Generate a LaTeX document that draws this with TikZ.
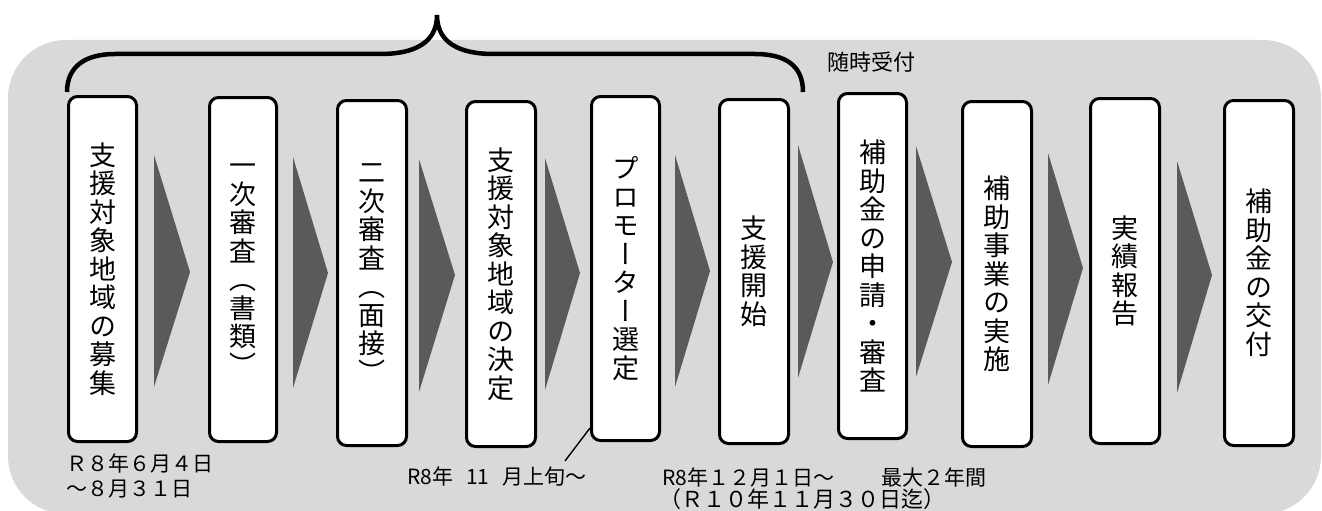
\documentclass[tikz,border=0pt]{standalone}
\usepackage{fontspec}
\newfontfamily\jp{Noto Sans CJK JP}
\newfontfamily\jpv[RawFeature={+vert}]{Noto Sans CJK JP}
\usetikzlibrary{calc}
\definecolor{bg}{HTML}{D9D9D9}
\definecolor{arr}{HTML}{5A5A5A}
\tikzset{
  stepbox/.style={draw=black, line width=3pt, fill=white, rounded corners=9pt,
    inner sep=0pt, align=center, font=\jpv\fontsize{27}{28.5}\selectfont},
  chev/.style={fill=arr},
  brace/.style={draw=black, line width=4.5pt},
  lbl/.style={font=\jp\fontsize{21}{25}\selectfont, inner sep=0pt, align=left, text=black},
  leader/.style={draw=black, line width=1.4pt},
}
\newcommand\mkstep[6]{%
  \node[stepbox, minimum width={#4-#2-3}, minimum height={#5-#3-3}]
    (#1) at ({(#2+#4)/2},{(#3+#5)/2}) {#6};}
\newcommand\mkchev[5]{%
  \fill[chev] (#1,#2) -- (#4,#5) -- (#1,#3) -- cycle;}
\begin{document}
\begin{tikzpicture}[x=1pt,y=-1pt]
\useasboundingbox (0,0) rectangle (1322,511);
% background panel
\fill[bg, rounded corners=58pt] (8,40) rectangle (1321,514);
% brace
\draw[brace] (67,92) .. controls (67,66) and (86,54) .. (115,54) -- (380,54)
  .. controls (424,54) and (437,36) .. (437,15)
  .. controls (437,36) and (450,54) .. (494,54) -- (755,54)
  .. controls (786,54) and (803,66) .. (803,92);
\node[lbl, font=\jp\fontsize{22}{25}\selectfont] (zuiji) at (871,62) {随時受付};
% chevrons
\mkchev{154}{155}{387}{190}{272}
\mkchev{293}{157}{388}{328}{273}
\mkchev{419}{159}{392}{455}{275}
\mkchev{545}{158}{390}{580}{273}
\mkchev{675}{155}{387}{710}{271}
\mkchev{798}{145}{378}{833}{262}
\mkchev{916}{146}{377}{952}{262}
\mkchev{1048}{153}{385}{1083}{268}
\mkchev{1177}{161}{393}{1212}{275}
% step boxes
\mkstep{b1}{67}{95}{138}{443}{支\\援\\対\\象\\地\\域\\の\\募\\集}
\mkstep{b2}{208}{96}{278}{443}{一\\次\\審\\査\\（\\書\\類\\）}
\mkstep{b3}{336}{99}{408}{447}{二\\次\\審\\査\\（\\面\\接\\）}
\mkstep{b4}{465}{100}{537}{448}{支\\援\\対\\象\\地\\域\\の\\決\\定}
\mkstep{b5}{590}{95}{661}{442}{プ\\ロ\\モ\\ー\\タ\\ー\\選\\定}
\mkstep{b6}{718}{98}{790}{445}{支\\援\\開\\始}
\mkstep{b7}{837}{92}{908}{440}{補\\助\\金\\の\\申\\請\\・\\審\\査}
\mkstep{b8}{961}{100}{1033}{448}{補\\助\\事\\業\\の\\実\\施}
\mkstep{b9}{1089}{97}{1161}{445}{実\\績\\報\\告}
\mkstep{b10}{1223}{99}{1295}{447}{補\\助\\金\\の\\交\\付}
% date labels
\node[lbl, anchor=west] (d1) at (66,475.5) {Ｒ８年６月４日\\～８月３１日};
\node[lbl, anchor=west] (d2) at (407,477) {R8年\hspace{13pt}11\hspace{13pt}月上旬～};
\coordinate (lt) at (565,461);
\draw[leader] ([yshift=14pt]b5.south west) -- (lt);
\node[lbl, anchor=west] (d3) at (662,477) {R8年１２月１日～\hspace{47pt}最大２年間};
\node[lbl, anchor=west, font=\jp\fontsize{22}{25}\selectfont] (d4) at (659,499) {（Ｒ１０年１１月３０日迄）};
\end{tikzpicture}
\end{document}
